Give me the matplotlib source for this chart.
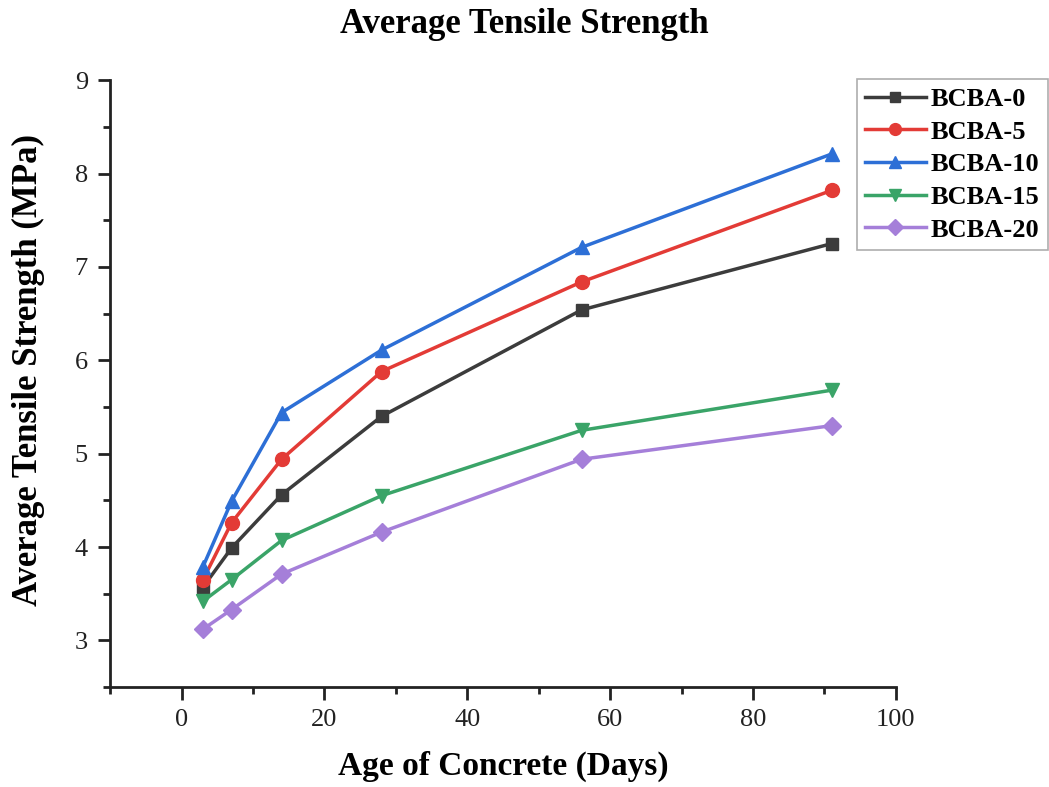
import matplotlib
matplotlib.use('Agg')
import matplotlib.pyplot as plt
from matplotlib.ticker import MultipleLocator

plt.rcParams['font.family'] = 'Liberation Serif'
plt.rcParams['font.weight'] = 'bold'

# curing age (days) and average tensile strength (MPa) per mix
days = [3, 7, 14, 28, 56, 91]
bcba_0 = [3.57, 3.99, 4.56, 5.40, 6.54, 7.25]
bcba_5 = [3.65, 4.26, 4.94, 5.88, 6.84, 7.82]
bcba_10 = [3.79, 4.49, 5.44, 6.11, 7.21, 8.21]
bcba_15 = [3.42, 3.65, 4.07, 4.55, 5.25, 5.68]
bcba_20 = [3.12, 3.33, 3.71, 4.16, 4.94, 5.30]

labels = ['BCBA-0', 'BCBA-5', 'BCBA-10', 'BCBA-15', 'BCBA-20']
series = [bcba_0, bcba_5, bcba_10, bcba_15, bcba_20]
colors = ['#3c3c3c', '#e33b36', '#2d6fd6', '#3aa468', '#a57fd9']
markers = ['s', 'o', '^', 'v', 'D']
msizes = [9, 10, 10, 10, 9]

fig = plt.figure(figsize=(10.49, 7.87), dpi=100)
ax = fig.add_axes([0.105, 0.127, 0.749, 0.771])

for y, lab, c, m, ms in zip(series, labels, colors, markers, msizes):
    ax.plot(days, y, color=c, marker=m, markersize=ms, linewidth=2.5, label=lab)

ax.set_xlim(-10, 100)
ax.set_ylim(2.5, 9)
ax.xaxis.set_major_locator(MultipleLocator(20))
ax.xaxis.set_minor_locator(MultipleLocator(10))
ax.yaxis.set_major_locator(MultipleLocator(1))
ax.yaxis.set_minor_locator(MultipleLocator(0.5))

for side in ('top', 'right'):
    ax.spines[side].set_visible(False)
for side in ('left', 'bottom'):
    ax.spines[side].set_linewidth(2)
    ax.spines[side].set_color('#222222')
ax.tick_params(which='major', direction='out', length=9, width=2, labelsize=19,
               colors='#222222', pad=7)
ax.tick_params(which='minor', direction='out', length=5, width=2, colors='#222222')
for t in ax.get_xticklabels() + ax.get_yticklabels():
    t.set_fontweight('normal')

ax.set_xlabel('Age of Concrete (Days)', fontsize=24, fontweight='bold', labelpad=14)
ax.set_ylabel('Average Tensile Strength (MPa)', fontsize=25, fontweight='bold')
ax.yaxis.set_label_coords(-0.083, 0.522)
fig.suptitle('Average Tensile Strength', fontsize=25, fontweight='bold', y=0.99)

leg = fig.legend(loc='upper left', bbox_to_anchor=(0.817, 0.899), fontsize=19,
                 frameon=True, fancybox=False, handlelength=2.3, borderpad=0.3,
                 labelspacing=0.35, handletextpad=0.2, borderaxespad=0,
                 markerscale=0.85)
leg.get_frame().set_edgecolor('#999999')
leg.get_frame().set_linewidth(1.2)

fig.savefig('out.png', dpi=100)
